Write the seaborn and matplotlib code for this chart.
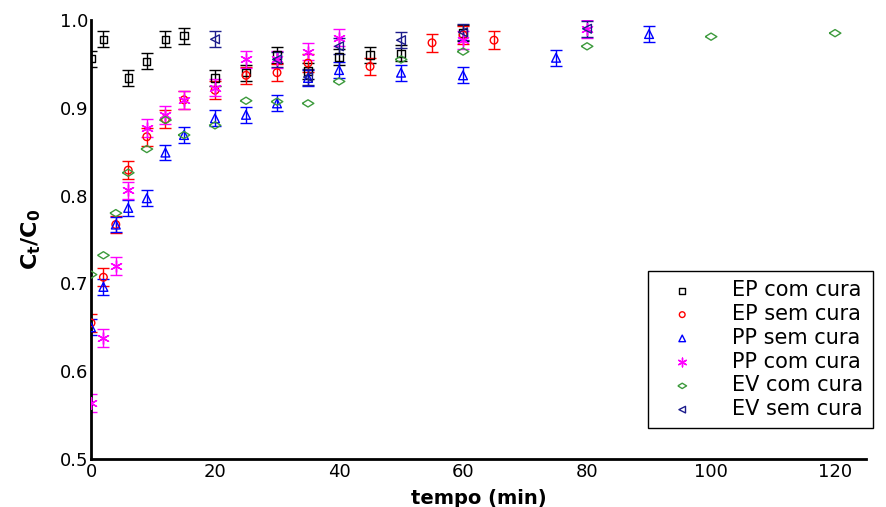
import numpy as np
import pandas as pd
import matplotlib
matplotlib.use('Agg')
import matplotlib.pyplot as plt
import seaborn as sns

# EP com cura (black squares)
ep_com_t = [0, 2, 6, 9, 12, 15, 20, 25, 30, 35, 40, 45, 50, 60]
ep_com_y = [0.956, 0.978, 0.934, 0.953, 0.978, 0.982, 0.934, 0.940, 0.960, 0.942, 0.958, 0.960, 0.962, 0.985]
ep_com_err = 0.009

# EP sem cura (red circles)
ep_sem_t = [0, 2, 4, 6, 9, 12, 15, 20, 25, 30, 35, 45, 55, 60, 65]
ep_sem_y = [0.655, 0.707, 0.767, 0.829, 0.867, 0.887, 0.909, 0.920, 0.937, 0.940, 0.951, 0.947, 0.974, 0.983, 0.977]
ep_sem_err = 0.01

# PP sem cura (blue triangles)
pp_sem_t = [0, 2, 4, 6, 9, 12, 15, 20, 25, 30, 35, 40, 50, 60, 75, 90]
pp_sem_y = [0.650, 0.696, 0.767, 0.786, 0.797, 0.849, 0.869, 0.888, 0.892, 0.905, 0.934, 0.943, 0.940, 0.937, 0.957, 0.984]
pp_sem_err = 0.009

# PP com cura (magenta stars)
pp_com_t = [0, 2, 4, 6, 9, 12, 15, 20, 25, 30, 35, 40, 60, 80]
pp_com_y = [0.564, 0.638, 0.720, 0.806, 0.877, 0.892, 0.909, 0.923, 0.955, 0.955, 0.964, 0.980, 0.977, 0.990]
pp_com_err = 0.01

# EV com cura (green diamonds, no error bars)
ev_com_t = [0, 2, 4, 6, 9, 12, 15, 20, 25, 30, 35, 40, 50, 60, 80, 100, 120]
ev_com_y = [0.710, 0.732, 0.780, 0.826, 0.853, 0.886, 0.869, 0.880, 0.908, 0.907, 0.905, 0.930, 0.955, 0.964, 0.970, 0.981, 0.985]

# EV sem cura (navy left triangles)
ev_sem_t = [20, 30, 35, 40, 50, 60, 80]
ev_sem_y = [0.978, 0.955, 0.935, 0.970, 0.977, 0.986, 0.990]
ev_sem_err = 0.009

# wide, flat diamond like the original
wide_diamond = [(-1, 0), (0, 0.62), (1, 0), (0, -0.62), (-1, 0)]

series = [
    ('EP com cura', ep_com_t, ep_com_y, ep_com_err, 's', '#000000', 28, False),
    ('EP sem cura', ep_sem_t, ep_sem_y, ep_sem_err, 'o', '#ff0000', 30, False),
    ('PP sem cura', pp_sem_t, pp_sem_y, pp_sem_err, '^', '#0000ff', 40, False),
    ('PP com cura', pp_com_t, pp_com_y, pp_com_err, (6, 2, 0), '#ff00ff', 70, True),
    ('EV com cura', ev_com_t, ev_com_y, None, wide_diamond, '#3c9a3c', 70, False),
    ('EV sem cura', ev_sem_t, ev_sem_y, ev_sem_err, '<', '#1c1c8c', 40, False),
]

sns.set_style('white')
plt.rcParams['font.family'] = ['DejaVu Sans']
plt.rcParams['mathtext.fontset'] = 'dejavusans'
plt.rcParams['text.color'] = 'black'
plt.rcParams['axes.labelcolor'] = 'black'

fig = plt.figure(figsize=(8.87, 5.07), dpi=100)
ax = fig.add_axes([0.1026, 0.0947, 0.8738, 0.8659])

for name, t, y, err, mk, col, sz, line_art in series:
    df = pd.DataFrame({'tempo': t, 'ratio': y})
    if err is not None:
        ax.errorbar(df['tempo'], df['ratio'], yerr=err, fmt='none', ecolor=col,
                    elinewidth=1.0, capsize=4, capthick=1.0, zorder=2)
    fc = col if line_art else 'none'
    sns.scatterplot(data=df, x='tempo', y='ratio', ax=ax, marker=mk, s=sz,
                    facecolors=fc, edgecolor=col, color=col, linewidth=1.0,
                    label=name, zorder=3)

ax.set_xlim(0, 125)
ax.set_ylim(0.5, 1.0)
ax.set_xticks([0, 20, 40, 60, 80, 100, 120])
ax.set_yticks([0.5, 0.6, 0.7, 0.8, 0.9, 1.0])
ax.set_yticklabels(['0.5', '0.6', '0.7', '0.8', '0.9', '1.0'])
ax.tick_params(axis='both', direction='in', length=3, width=1, labelsize=13, pad=2,
               colors='black')
ax.tick_params(axis='x', pad=3)

sns.despine(ax=ax)
for side in ['left', 'bottom']:
    ax.spines[side].set_linewidth(2)
    ax.spines[side].set_color('black')

ax.set_xlabel('tempo (min)', fontsize=14, fontweight='bold', labelpad=6)
ax.set_ylabel(r'$\mathbf{C_t/C_0}$', fontsize=16, labelpad=12)

leg = ax.legend(loc='upper left', bbox_to_anchor=(0.705, 0.452), fontsize=15,
                frameon=True, fancybox=False, edgecolor='black', framealpha=1,
                labelspacing=0.18, handletextpad=1.2, borderpad=0.45,
                handlelength=2.4, markerscale=0.75)
leg.get_frame().set_linewidth(1.0)
for txt in leg.get_texts():
    txt.set_color('black')

fig.savefig('out.png', dpi=100)
